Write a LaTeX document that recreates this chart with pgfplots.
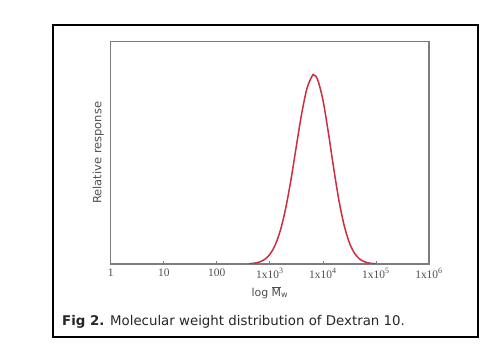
\documentclass[border=0pt]{standalone}
\usepackage{fontspec}
\setmainfont{DejaVu Sans}
\newfontfamily\serifticks{Liberation Serif}
\usepackage{pgfplots}
\pgfplotsset{compat=1.18}
\definecolor{curvered}{RGB}{205,45,65}
\definecolor{axgray}{RGB}{125,125,125}
\definecolor{txtgray}{RGB}{80,80,80}
\begin{document}
\begin{tikzpicture}
\useasboundingbox (0,0) rectangle (494bp,351bp);
\fill[white] (0,0) rectangle (494bp,351bp);
\draw[black, line width=1.6bp] (53bp,14bp) rectangle (478bp,326bp);
\begin{axis}[
  at={(110.7bp,87bp)}, anchor=south west,
  scale only axis, width=318.3bp, height=222.3bp,
  xmin=0, xmax=6, ymin=0, ymax=1.176,
  axis line style={axgray, line width=1.1bp},
  xtick={0,1,2,3,4,5,6},
  xticklabels={1,10,100,1x10\textsuperscript{3},1x10\textsuperscript{4},1x10\textsuperscript{5},1x10\textsuperscript{6}},
  xticklabel style={font=\serifticks\fontsize{11.5}{12}\selectfont, text=txtgray, yshift=-1bp},
  xtick pos=bottom, tick align=inside, major tick length=3bp,
  tick style={axgray, line width=0.8bp},
  ytick=\empty,
  xlabel={log $\overline{\mbox{M}}_{\mbox{\fontsize{8}{9}\selectfont w}}$},
  xlabel style={at={(axis description cs:0.5,-0.128)}, anchor=center, font=\fontsize{11}{12}\selectfont, text=txtgray},
  ylabel={Relative response},
  ylabel style={at={(axis description cs:-0.039,0.5)}, anchor=center, font=\fontsize{11.5}{12}\selectfont, text=txtgray},
]
\addplot[curvered, line width=1.5bp, smooth] coordinates {
(2.6,0.00144) (2.7,0.00399) (2.8,0.01017) (2.9,0.02373)
(3.0,0.05081) (3.1,0.0998) (3.2,0.1797) (3.3,0.2967) (3.4,0.4495)
(3.5,0.6244) (3.6,0.7955) (3.7,0.9295) (3.8,0.9961) (3.83,1.0)
(3.9,0.9764) (4.0,0.8684) (4.1,0.7005) (4.2,0.5125) (4.3,0.3401)
(4.4,0.2047) (4.5,0.1117) (4.6,0.0553) (4.7,0.0248) (4.8,0.0101)
(4.9,0.00373) (5.0,0.00125)
};
\end{axis}
\node[anchor=base west, inner sep=0pt, text=black!85, font=\fontsize{13.4}{15}\selectfont] at (62bp,25.3bp) {\textbf{Fig 2.} Molecular weight distribution of Dextran 10.};
\end{tikzpicture}
\end{document}
